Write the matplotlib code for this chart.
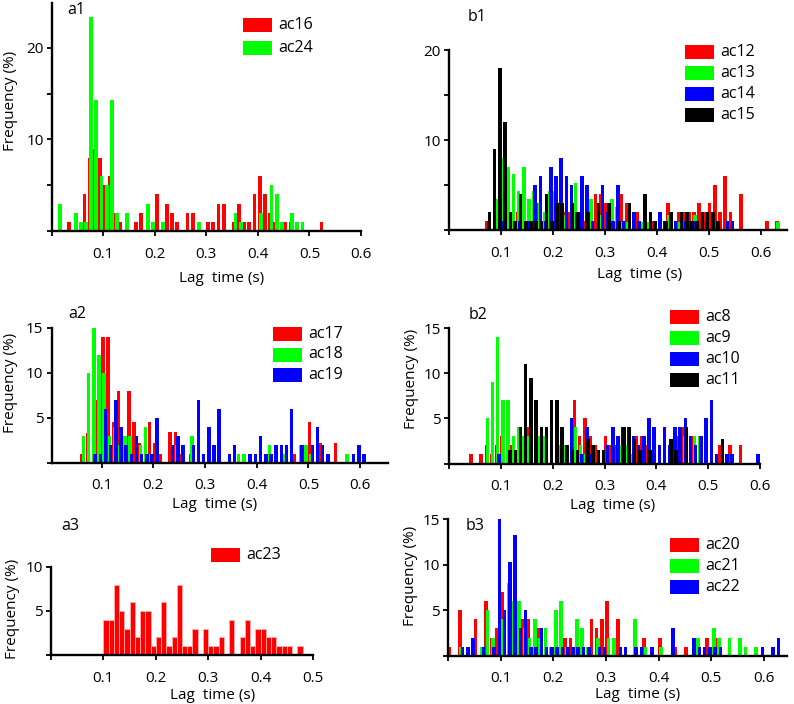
import matplotlib
matplotlib.use('Agg')
import matplotlib.pyplot as plt
from matplotlib.patches import Rectangle
import numpy as np

plt.rcParams['font.family'] = ['Open Sans', 'DejaVu Sans']
plt.rcParams['font.size'] = 11

RED, GREEN, BLUE, BLACK = '#ff0000', '#00ff00', '#0000ff', '#000000'
BIN = 0.01

# ---------------- data (bin start in s, frequency in %) ----------------
# a1
a1_ac16_t = [0.03,0.06,0.07,0.08,0.09,0.10,0.11,0.12,0.13,0.16,0.17,0.20,0.22,0.23,0.24,0.26,0.27,
             0.30,0.31,0.32,0.33,0.35,0.36,0.37,0.38,0.39,0.40,0.41,0.42,0.43,0.45,0.46,0.52]
a1_ac16_f = [1,4,8,9,8,5,6,2,1,1,2,4,3,2,1,2,2,1,1,3,3,1,3,1,1,4,6,4,2,1,1,1,1]
a1_ac24_t = [0.01,0.04,0.05,0.06,0.07,0.08,0.09,0.10,0.11,0.12,0.14,0.18,0.19,0.21,0.28,0.35,0.36,
             0.40,0.42,0.43,0.44,0.46,0.47,0.48]
a1_ac24_f = [3,2,1,1,23.4,14.3,6,5,14.3,2,2,3,1,1,1,2,1,2,5,4,1,2,1,1]

# b1
b1_ac12_t = [0.07,0.13,0.17,0.20,0.22,0.23,0.24,0.26,0.28,0.29,0.30,0.31,0.33,0.34,0.36,0.39,0.42,
             0.44,0.45,0.46,0.47,0.48,0.49,0.50,0.51,0.52,0.53,0.54,0.56,0.61,0.63]
b1_ac12_f = [1,2,3,3,2,2,2,1,4,4,3,3,4,3,2,1,3,2,2,2,2,3,2,3,5,2,6,2,4,1,1]
b1_ac13_t = [0.09,0.10,0.11,0.12,0.13,0.14,0.15,0.16,0.17,0.18,0.19,0.20,0.21,0.22,0.24,0.25,0.27,
             0.29,0.31,0.32,0.33,0.34,0.37,0.38,0.42,0.44,0.47,0.63]
b1_ac13_f = [3.5,8,7,6.2,4.3,7,3.5,4.3,3,2,4.3,4.3,2,1.7,5.2,1.7,3.5,1.7,3.5,2.6,0.9,0.9,0.9,0.9,
             1.7,0.9,1.7,0.9]
b1_ac14_t = [0.07,0.10,0.12,0.13,0.15,0.16,0.17,0.18,0.19,0.20,0.21,0.22,0.23,0.24,0.25,0.26,0.27,
             0.29,0.30,0.31,0.32,0.33,0.35,0.36,0.39,0.40,0.41,0.43,0.45,0.46,0.47,0.49,0.53,0.54]
b1_ac14_f = [1,1,1,1,1,5,6,1,7,6,8,6,5,2,6,5,1,5,2,1,5,1,2,1,1,2,1,1,1,1,1,1,1,1]
b1_ac15_t = [0.07,0.08,0.09,0.10,0.11,0.12,0.13,0.14,0.15,0.16,0.17,0.18,0.19,0.20,0.21,0.23,0.24,
             0.26,0.28,0.30,0.32,0.34,0.37,0.38,0.39,0.41,0.42,0.44,0.45,0.46,0.47,0.48,0.49,0.50,0.51]
b1_ac15_f = [2,9,18,12,2,1,4,1,1,1,1,4,1,3,3,3,2,2,3,3,1,3,4,2,1,1,2,2,2,1,1,2,2,2,1]

# a2
a2_ac17_t = [0.06,0.07,0.09,0.10,0.11,0.12,0.13,0.15,0.16,0.17,0.19,0.20,0.21,0.23,0.24,0.25,0.27,
             0.47,0.50,0.52,0.55]
a2_ac17_f = [1,3.3,7,14,14,4.5,8,8,4.5,2.2,4.5,2.2,1,3.4,3.4,1,1,1,4.5,2.2,2.2]
a2_ac18_t = [0.06,0.07,0.08,0.09,0.10,0.11,0.12,0.13,0.14,0.15,0.17,0.18,0.19,0.24,0.27,0.36,0.37,
             0.42,0.45,0.48,0.49,0.50,0.57]
a2_ac18_f = [3,10,16,12,10,3,4,2,3,3,2,4,1,2,3,1,1,2,1,2,2,1,1]
a2_ac19_t = [0.08,0.09,0.10,0.11,0.12,0.13,0.14,0.15,0.16,0.17,0.18,0.19,0.20,0.23,0.24,0.25,0.27,
             0.28,0.29,0.30,0.31,0.32,0.34,0.35,0.38,0.39,0.40,0.41,0.42,0.43,0.44,0.45,0.46,0.48,
             0.50,0.51,0.52,0.53,0.58,0.59,0.60]
a2_ac19_f = [1,1,6,2,7,4,2,1,3,1,1,1,5,2,3,2,2,7,1,4,2,6,1,2,1,1,3,1,1,2,2,2,6,2,2,4,2,1,1,2,1]

# b2
b2_ac8_t = [0.04,0.06,0.07,0.08,0.09,0.10,0.12,0.15,0.17,0.24,0.25,0.26,0.27,0.28,0.30,0.31,0.32,
            0.36,0.37,0.38,0.44,0.45,0.47,0.52,0.54,0.56]
b2_ac8_f = [1,1,2,1,2,3,2,4,2,7,3,5,3,2,3,2,2,3,3,2,3,4,3,2,2,2]
b2_ac9_t = [0.07,0.08,0.09,0.10,0.11,0.12,0.13,0.14,0.15,0.17,0.18,0.21,0.22,0.24,0.25,0.26,0.33,
            0.34,0.35,0.45,0.47,0.48]
b2_ac9_f = [5,9,14,7,7,3,4,3,3,3,3,2,2,4,2,1,2,2,1,3,3,3]
b2_ac10_t = [0.09,0.23,0.25,0.26,0.27,0.30,0.31,0.32,0.33,0.34,0.35,0.36,0.37,0.38,0.39,0.40,0.41,
             0.42,0.43,0.44,0.45,0.46,0.47,0.48,0.49,0.50,0.51,0.53,0.54,0.59]
b2_ac10_f = [1,5,1,4,1,2,4,3,4,4,3,2,3,5,4,2,4,2,4,4,5,3,2,3,5,7,1,1,1,1]
b2_ac11_t = [0.11,0.12,0.13,0.14,0.15,0.16,0.17,0.18,0.19,0.20,0.21,0.22,0.23,0.24,0.26,0.27,0.28,
             0.29,0.33,0.34,0.35,0.36,0.38,0.42,0.43,0.45,0.52]
b2_ac11_f = [1.5,1.5,4,11,9.5,7,4,4,7,7,4,2,1.5,1.5,2.7,2,1.5,1.5,4,4,2.7,1.5,1.5,2.7,1.5,4,2.7]

# a3
a3_ac23_t = [0.10,0.11,0.12,0.13,0.14,0.15,0.16,0.17,0.18,0.19,0.20,0.21,0.22,0.23,0.24,0.25,0.26,
             0.27,0.29,0.30,0.31,0.32,0.34,0.36,0.37,0.38,0.39,0.40,0.41,0.42,0.43,0.44,0.45,0.47]
a3_ac23_f = [4,4,8,5,3,6,2,5,5,1,2,6,1,2,8,1,1,3,3,1,1,2,4,2,4,1,3,3,2,2,1,1,1,1]

# b3
b3_ac20_t = [0.00,0.02,0.05,0.07,0.08,0.09,0.10,0.14,0.15,0.17,0.22,0.23,0.27,0.28,0.29,0.30,0.32,
             0.37,0.40,0.43,0.45,0.49,0.51]
b3_ac20_f = [1,5,4,6,2,3,7,4,4,3,2,2,4,3,4,6,4,2,2,1,1,2,2]
b3_ac21_t = [0.02,0.06,0.07,0.08,0.10,0.11,0.12,0.13,0.14,0.15,0.16,0.17,0.18,0.19,0.20,0.21,0.22,
             0.24,0.25,0.26,0.28,0.30,0.31,0.35,0.37,0.40,0.47,0.50,0.51,0.53,0.55,0.56,0.58]
b3_ac21_f = [1,1,5,2,4,8,6,6,3,2,4,2,3,1,5,6,1,4,3,1,2,2,2,4,1,1,2,3,2,2,2,1,1]
b3_ac22_t = [0.02,0.03,0.04,0.06,0.08,0.09,0.10,0.11,0.12,0.13,0.14,0.15,0.16,0.17,0.18,0.19,0.20,
             0.21,0.22,0.23,0.24,0.25,0.26,0.28,0.29,0.32,0.33,0.35,0.36,0.38,0.42,0.46,0.47,0.48,
             0.49,0.50,0.51,0.59,0.61,0.62]
b3_ac22_f = [1,1,2,1,1,15.3,5,10.3,13.3,3,5,1,1,3,1,1,1,1,1,1,1,1,1,1,1,1,1,1,1,1,3,2,1,1,1,1,1,1,1,2]

# ---------------- layout helpers ----------------
W, H = 794, 704
fig = plt.figure(figsize=(W / 100, H / 100), dpi=100)


def make_ax(left, right, top, bottom, xlim, ylim):
    ax = fig.add_axes([left / W, 1 - bottom / H, (right - left) / W, (bottom - top) / H])
    ax.set_xlim(*xlim)
    ax.set_ylim(*ylim)
    for s in ('top', 'right'):
        ax.spines[s].set_visible(False)
    for s in ('left', 'bottom'):
        ax.spines[s].set_linewidth(1.7)
    ax.tick_params(axis='x', width=1.3, length=3.8, direction='out', labelsize=11, pad=7.5)
    ax.tick_params(axis='y', width=1.3, length=3.8, direction='out', labelsize=11, pad=2)
    ax.patch.set_alpha(0)
    return ax, (left, right, top, bottom)


def set_ticks(ax, xt, yt, ylab):
    ax.set_xticks(xt)
    ax.set_xticklabels(['' if abs(v) < 1e-9 else f'{v:.1f}' for v in xt])
    ax.set_yticks(yt)
    ax.set_yticklabels([str(v) if v in ylab else '' for v in yt])


def draw(ax, series, width=0.0068):
    n = len(series)
    step = {1: 0, 2: 0.003, 3: 0.0025, 4: 0.002}[n]
    for i, (t, f, c) in enumerate(series):
        off = (i - (n - 1) / 2) * step
        ax.bar(np.array(t) + BIN / 2 + off, f, width=width, color=c, linewidth=0, zorder=1 + i * 0.01)


def labels(ax, box, xl_c, yl_c=None):
    left, right, top, bottom = box
    ax.set_xlabel('Lag  time (s)', fontsize=11)
    ax.xaxis.set_label_coords((xl_c[0] - left) / (right - left), -(xl_c[1] + 4 - bottom) / (bottom - top))
    ax.xaxis.label.set_va('center')
    if yl_c is not None:
        ax.set_ylabel('Frequency (%)', fontsize=11)
        ax.yaxis.set_label_coords((yl_c[0] - left) / (right - left), (bottom - yl_c[1]) / (bottom - top))
        ax.yaxis.label.set_va('center')


def legend(x, y, names, colors, dy=21, w=29, h=14):
    for i, (nm, c) in enumerate(zip(names, colors)):
        yy = y + i * dy
        fig.add_artist(Rectangle((x / W, 1 - (yy + h) / H), w / W, h / H,
                                 transform=fig.transFigure, facecolor=c, edgecolor='none'))
        fig.text((x + w + 6) / W, 1 - (yy + h / 2) / H, nm, ha='left', va='center', fontsize=11.5)


def letter(x, y, s):
    fig.text(x / W, 1 - y / H, s, ha='center', va='center', fontsize=11.5)


XT6 = [0, 0.1, 0.2, 0.3, 0.4, 0.5, 0.6]

# a1
ax, box = make_ax(51.7, 361, 3, 231, (0, 0.6), (0, 24.9))
draw(ax, [(a1_ac16_t, a1_ac16_f, RED), (a1_ac24_t, a1_ac24_f, GREEN)], width=0.0074)
set_ticks(ax, XT6, [0, 5, 10, 15, 20], (10, 20))
labels(ax, box, (222, 274), (11, 101))
legend(243, 18, ['ac16', 'ac24'], [RED, GREEN], dy=23)
letter(76, 10, 'a1')

# b1
ax, box = make_ax(449, 787, 50, 230, (0, 0.651), (0, 20))
draw(ax, [(b1_ac12_t, b1_ac12_f, RED), (b1_ac13_t, b1_ac13_f, GREEN),
          (b1_ac14_t, b1_ac14_f, BLUE), (b1_ac15_t, b1_ac15_f, BLACK)])
set_ticks(ax, XT6, [0, 5, 10, 15, 20], (10, 20))
labels(ax, box, (640, 270))
legend(685, 45, ['ac12', 'ac13', 'ac14', 'ac15'], [RED, GREEN, BLUE, BLACK], dy=21)
letter(477, 17, 'b1')

# a2
ax, box = make_ax(51.5, 388, 327.7, 462.7, (0.003, 0.654), (0, 15))
draw(ax, [(a2_ac17_t, a2_ac17_f, RED), (a2_ac18_t, a2_ac18_f, GREEN), (a2_ac19_t, a2_ac19_f, BLUE)])
set_ticks(ax, XT6[1:], [0, 5, 10, 15], (5, 10, 15))
labels(ax, box, (215, 500.7), (10, 382.5))
legend(273, 327, ['ac17', 'ac18', 'ac19'], [RED, GREEN, BLUE], dy=20.5)
letter(77, 314, 'a2')

# b2
ax, box = make_ax(449, 760, 328.3, 463.5, (0, 0.6), (0, 15))
draw(ax, [(b2_ac8_t, b2_ac8_f, RED), (b2_ac9_t, b2_ac9_f, GREEN),
          (b2_ac10_t, b2_ac10_f, BLUE), (b2_ac11_t, b2_ac11_f, BLACK)])
set_ticks(ax, XT6, [0, 5, 10, 15], (5, 10, 15))
labels(ax, box, (613, 501.7), (411, 378.5))
legend(670, 310, ['ac8', 'ac9', 'ac10', 'ac11'], [RED, GREEN, BLUE, BLACK], dy=21)
letter(478, 315, 'b2')

# a3
ax, box = make_ax(51, 313, 567, 655, (0, 0.5), (0, 10))
ax.bar(np.array(a3_ac23_t) + BIN / 2, a3_ac23_f, width=BIN, color=RED, edgecolor='#ffb0b0', linewidth=0.6)
set_ticks(ax, [0, 0.1, 0.2, 0.3, 0.4, 0.5], [0, 5, 10], (5, 10))
labels(ax, box, (213, 691.7), (13, 608.5))
legend(211, 548, ['ac23'], [RED])
letter(70, 526, 'a3')

# b3
ax, box = make_ax(448, 787, 519.3, 655.7, (0, 0.644), (0, 15))
draw(ax, [(b3_ac20_t, b3_ac20_f, RED), (b3_ac21_t, b3_ac21_f, GREEN), (b3_ac22_t, b3_ac22_f, BLUE)])
set_ticks(ax, XT6, [0, 5, 10, 15], (5, 10, 15))
labels(ax, box, (637.5, 690.7), (410, 576))
legend(670, 538, ['ac20', 'ac21', 'ac22'], [RED, GREEN, BLUE], dy=21)
letter(475, 526, 'b3')

fig.savefig('out.png', dpi=100)
